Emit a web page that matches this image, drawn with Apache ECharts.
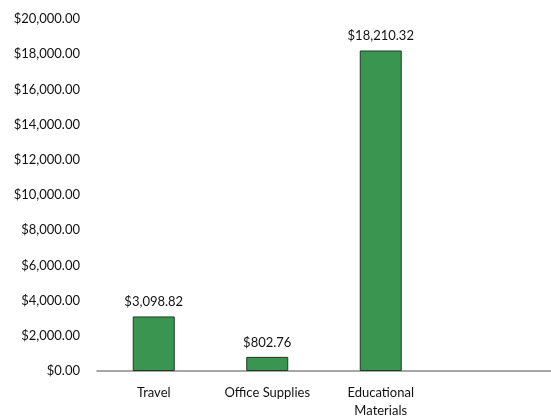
<!DOCTYPE html>
<html>
<head>
<meta charset="utf-8">
<script src="https://cdn.jsdelivr.net/npm/echarts@6/dist/echarts.min.js"></script>
<style>html,body{margin:0;padding:0;background:#fff}#c{width:551px;height:420px}</style>
</head>
<body>
<div id="c"></div>
<script>
var categories = ['Travel', 'Office Supplies', 'Educational\nMaterials', ''];
var amounts = [3098.82, 802.76, 18210.32, null];
var yMin = 0, yMax = 20000, yStep = 2000;

function money(v) {
  return '$' + Number(v).toLocaleString('en-US', {minimumFractionDigits: 2, maximumFractionDigits: 2});
}

var chart = echarts.init(document.getElementById('c'));
chart.setOption({
  animation: false,
  backgroundColor: '#ffffff',
  textStyle: {fontFamily: 'Lato, "Open Sans", sans-serif'},
  grid: {left: 97, right: -13, top: 19, bottom: 45, containLabel: false},
  xAxis: {
    type: 'category',
    data: categories,
    axisLine: {show: true, lineStyle: {color: '#8a8a8a', width: 1.5}},
    axisTick: {show: false},
    axisLabel: {color: '#111', fontSize: 13, margin: 13, lineHeight: 18, interval: 0}
  },
  yAxis: {
    type: 'value',
    min: yMin, max: yMax, interval: yStep,
    axisLine: {show: false},
    axisTick: {show: false},
    splitLine: {show: false},
    axisLabel: {color: '#111', fontSize: 13, margin: 17, formatter: money}
  },
  series: [{
    type: 'bar',
    data: amounts,
    barWidth: '37%',
    itemStyle: {color: '#3a9550', borderColor: '#1f3a26', borderWidth: 1},
    label: {
      show: true, position: 'top', distance: 8,
      color: '#111', fontSize: 13,
      formatter: function (p) { return money(p.value); }
    }
  }]
});
</script>
</body>
</html>
